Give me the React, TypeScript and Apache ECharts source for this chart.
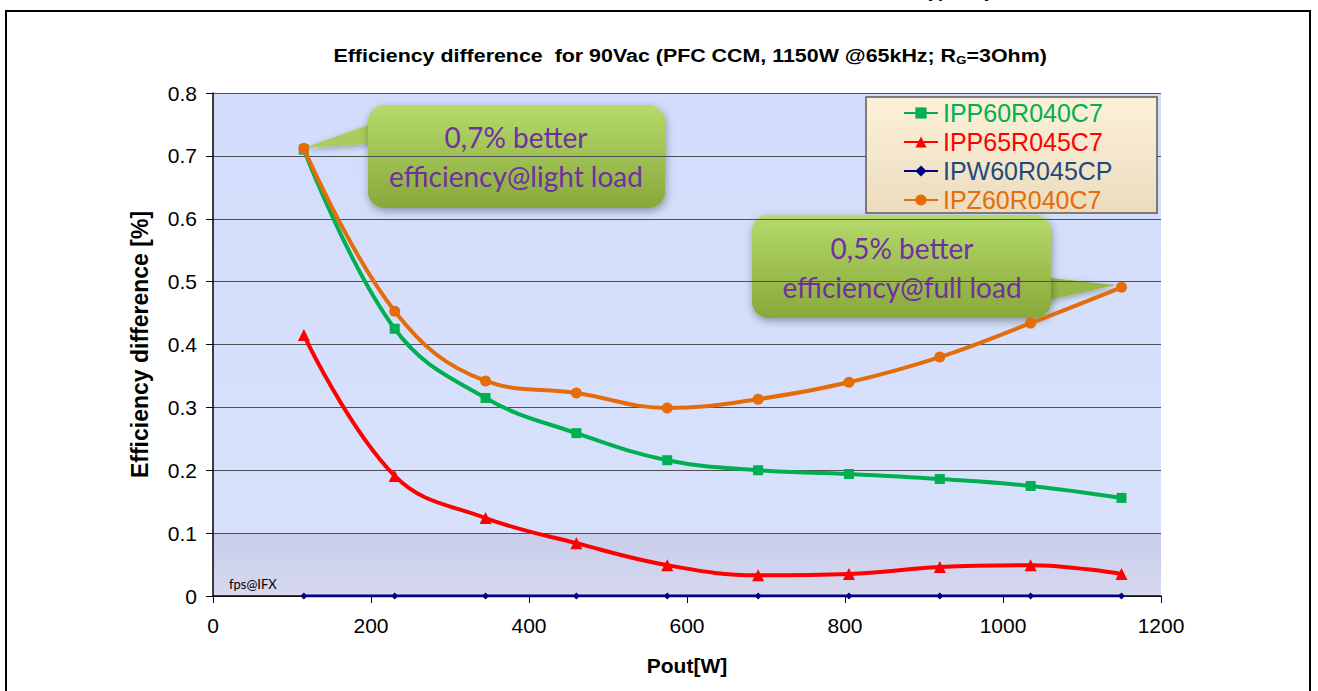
import React, { useEffect, useRef } from "react";
import * as echarts from "echarts";

const xValues = [115, 230, 345, 460, 575, 690, 805, 920, 1035, 1150];
const seriesNames = ["IPP60R040C7", "IPP65R045C7", "IPW60R045CP", "IPZ60R040C7"];
const ipp60r040c7 = [0.71, 0.425, 0.315, 0.259, 0.216, 0.2, 0.194, 0.186, 0.175, 0.156];
const ipp65r045c7 = [0.415, 0.191, 0.124, 0.084, 0.049, 0.033, 0.035, 0.046, 0.049, 0.035];
const ipw60r045cp = [0, 0, 0, 0, 0, 0, 0, 0, 0, 0];
const ipz60r040c7 = [0.712, 0.453, 0.342, 0.323, 0.299, 0.313, 0.34, 0.38, 0.434, 0.491];
const lineColors = ["#00b050", "#ff0000", "#000080", "#e46c0a"];
const legendTextColors = ["#00b050", "#ff0000", "#1f497d", "#e46c0a"];
const symbols = ["rect", "triangle", "diamond", "circle"];
const symbolSizes = [10, 12, 7, 11];
const lineWidths = [4, 4, 3, 4];

const pair = (vals: number[]) => vals.map((v, i) => [xValues[i], v]);

const calloutFill = {
  type: "linear", x: 0, y: 0, x2: 0, y2: 1,
  colorStops: [
    { offset: 0, color: "#b6da6c" },
    { offset: 1, color: "#88a83a" },
  ],
};

const ARIAL = "Arial, 'Liberation Sans', sans-serif";

export default function App() {
  const ref = useRef<HTMLDivElement>(null);
  useEffect(() => {
    if (!ref.current) return;
    const chart = echarts.init(ref.current, null, { renderer: "svg" });
    const allData = [ipp60r040c7, ipp65r045c7, ipw60r045cp, ipz60r040c7];
    const calloutText = {
      fill: "#7030a0",
      fontSize: 28,
      fontFamily: "Lato, 'Open Sans', sans-serif",
      align: "center",
      verticalAlign: "middle",
    };
    chart.setOption({
      animation: false,
      backgroundColor: "#ffffff",
      grid: {
        left: 213,
        right: 157,
        top: 93,
        bottom: 95,
        show: true,
        borderWidth: 0,
        backgroundColor: {
          type: "linear", x: 0, y: 0, x2: 0, y2: 1,
          colorStops: [
            { offset: 0, color: "#d2ddfb" },
            { offset: 0.874, color: "#d8e1fb" },
            { offset: 0.876, color: "#c9cdeb" },
            { offset: 1, color: "#d6d8ee" },
          ],
        },
      },
      legend: {
        orient: "vertical",
        left: 898,
        top: 95,
        itemWidth: 34,
        itemHeight: 14,
        itemGap: 3,
        data: seriesNames.map((n, i) => ({ name: n, textStyle: { color: legendTextColors[i] } })),
        textStyle: { fontSize: 25, lineHeight: 26, fontFamily: ARIAL },
      },
      xAxis: {
        type: "value",
        min: 0,
        max: 1200,
        interval: 200,
        name: "Pout[W]",
        nameLocation: "middle",
        nameGap: 59,
        nameTextStyle: { fontSize: 21, fontWeight: "bold", color: "#000", fontFamily: ARIAL },
        axisLine: { show: true, lineStyle: { color: "#000", width: 1.5 } },
        axisTick: { show: true, length: 7, lineStyle: { color: "#000" } },
        axisLabel: { fontSize: 21, color: "#000", margin: 19, fontFamily: ARIAL, formatter: (v: number) => String(v) },
        splitLine: { show: false },
      },
      yAxis: {
        type: "value",
        min: 0,
        max: 0.8,
        interval: 0.1,
        name: "Efficiency difference [%]",
        nameLocation: "middle",
        nameGap: 62,
        nameTextStyle: { fontSize: 23, fontWeight: "bold", color: "#000", fontFamily: ARIAL },
        axisLine: { show: true, lineStyle: { color: "#000", width: 1.5 } },
        axisTick: { show: true, length: 7, lineStyle: { color: "#000" } },
        axisLabel: { fontSize: 21, color: "#000", margin: 16, fontFamily: ARIAL, formatter: (v: number) => (v === 0 ? "0" : v.toFixed(1)) },
        splitLine: { show: true, lineStyle: { color: "#4d4d55", width: 1.2 } },
      },
      series: seriesNames.map((n, i) => ({
        name: n,
        type: "line",
        smooth: 0.4,
        data: pair(allData[i]),
        symbol: symbols[i],
        symbolSize: symbolSizes[i],
        showSymbol: true,
        lineStyle: { color: lineColors[i], width: lineWidths[i] },
        itemStyle: { color: lineColors[i] },
        z: i === 3 ? 4 : 2,
      })),
      graphic: [
        {
          type: "rect",
          shape: { x: 6, y: 11, width: 1304, height: 700 },
          style: { fill: "none", stroke: "#000", lineWidth: 2 },
          silent: true,
          z: 0,
        },
        {
          type: "text",
          x: 922,
          y: -18,
          style: { text: "typically", fontSize: 18, fontWeight: "bold", fill: "#000", fontFamily: ARIAL },
        },
        {
          type: "text",
          x: 690,
          y: 56,
          scaleX: 1.19,
          style: {
            text: "{a|Efficiency difference  for 90Vac (PFC CCM, 1150W @65kHz; R}{s|G}{a|=3Ohm)}",
            align: "center",
            verticalAlign: "middle",
            rich: {
              a: { fontFamily: ARIAL, fontWeight: "bold", fontSize: 18, fill: "#000", color: "#000" },
              s: { fontFamily: ARIAL, fontWeight: "bold", fontSize: 11, fill: "#000", color: "#000", padding: [8, 0, 0, 0] },
            },
          },
        },
        {
          type: "rect",
          shape: { x: 866, y: 97, width: 291, height: 116 },
          style: {
            fill: {
              type: "linear", x: 0, y: 0, x2: 0, y2: 1,
              colorStops: [
                { offset: 0, color: "#fdf1da" },
                { offset: 1, color: "#ebdcbd" },
              ],
            },
            stroke: "#5a5a5a",
            lineWidth: 1.5,
          },
          z: 3,
        },
        {
          type: "text",
          x: 229,
          y: 577,
          style: { text: "fps@IFX", fontSize: 13, fill: "#000", fontFamily: "Lato, 'Open Sans', sans-serif" },
          z: 5,
        },
        // Callout 1
        {
          type: "group",
          z: 10,
          children: [
            {
              type: "polygon",
              shape: { points: [[304, 148], [380, 121], [380, 143]] },
              style: { fill: "#a9cc5b", shadowBlur: 6, shadowColor: "rgba(0,0,0,0.3)", shadowOffsetY: 2 },
            },
            {
              type: "rect",
              shape: { x: 368, y: 105, width: 297, height: 103, r: 16 },
              style: { fill: calloutFill, shadowBlur: 8, shadowColor: "rgba(0,0,0,0.35)", shadowOffsetX: 1, shadowOffsetY: 3 },
            },
            { type: "text", x: 516, y: 137, style: { ...calloutText, text: "0,7% better" } },
            { type: "text", x: 516, y: 176, style: { ...calloutText, text: "efficiency@light load" } },
          ],
        },
        // Callout 2
        {
          type: "group",
          z: 10,
          children: [
            {
              type: "polygon",
              shape: { points: [[1040, 277], [1116, 285], [1040, 302]] },
              style: { fill: "#97b848", shadowBlur: 6, shadowColor: "rgba(0,0,0,0.3)", shadowOffsetY: 2 },
            },
            {
              type: "rect",
              shape: { x: 752, y: 215, width: 299, height: 103, r: 16 },
              style: { fill: calloutFill, shadowBlur: 8, shadowColor: "rgba(0,0,0,0.35)", shadowOffsetX: 1, shadowOffsetY: 3 },
            },
            { type: "text", x: 902, y: 248, style: { ...calloutText, text: "0,5% better" } },
            { type: "text", x: 902, y: 287, style: { ...calloutText, text: "efficiency@full load" } },
          ],
        },
      ],
    });
    return () => chart.dispose();
  }, []);
  return (
    <div
      ref={ref}
      style={{ position: "fixed", left: 0, top: 0, width: 1318, height: 691 }}
    />
  );
}
